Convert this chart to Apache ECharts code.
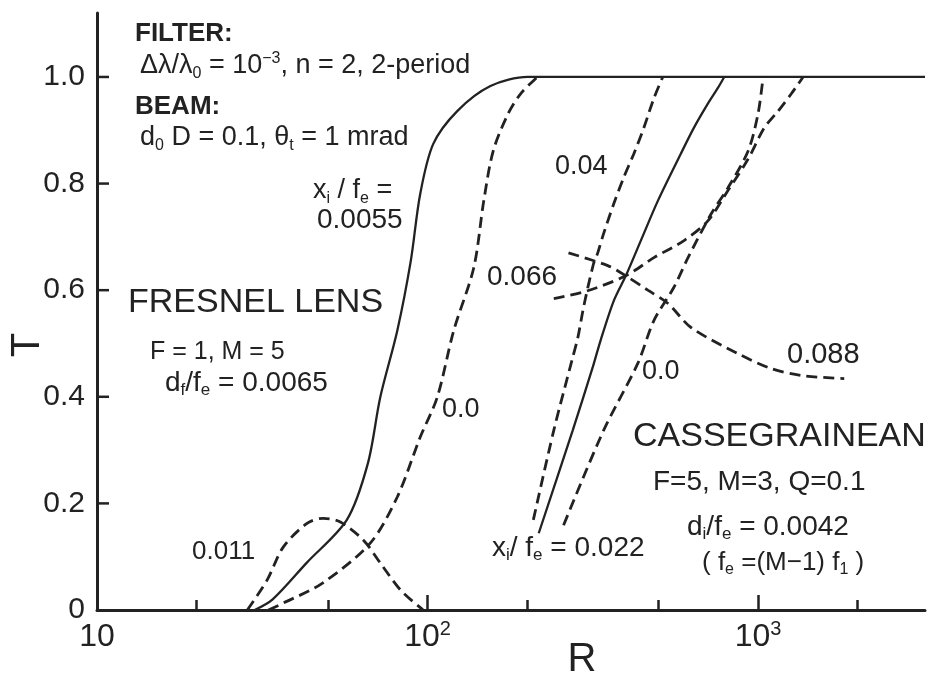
<!DOCTYPE html>
<html>
<head>
<meta charset="utf-8">
<title>T versus R</title>
<script src="https://cdn.jsdelivr.net/npm/echarts@6/dist/echarts.min.js"></script>
<style>
html, body { margin: 0; padding: 0; background: #fff; }
#chart { width: 939px; height: 677px; }
</style>
</head>
<body>
<div id="chart"></div>
<script>
'use strict';

// ticks and labels
var xLabelTicks = [10, 100, 1000];
var xMajorTicks = [100, 1000];
var xMinorTicks = [20, 50, 200, 500, 2000];
var yTicks = [0.2, 0.4, 0.6, 0.8, 1.0];
var yLabelTicks = [0, 0.2, 0.4, 0.6, 0.8, 1.0];

// Fresnel lens  xi/fe = 0.0055 (solid)
var fresnel0055R = [30, 34, 43, 57, 66, 72, 81, 89, 95, 104, 123, 155, 201, 3200];
var fresnel0055T = [0, 0.02, 0.088, 0.169, 0.275, 0.40, 0.524, 0.655, 0.78, 0.874, 0.936, 0.983, 1.0, 1.0];
// Fresnel lens  xi/fe = 0.0
var fresnel0R = [33, 36.6, 48, 67, 81, 95, 107, 120, 138, 148, 158, 175, 191, 215];
var fresnel0T = [0, 0.013, 0.05, 0.125, 0.212, 0.324, 0.399, 0.524, 0.642, 0.768, 0.861, 0.93, 0.968, 1.0];
// Fresnel lens  xi/fe = 0.011
var fresnel011R = [28.5, 32.7, 36.6, 43.3, 48.4, 54.5, 64, 72, 83, 97];
var fresnel011T = [0, 0.056, 0.118, 0.163, 0.172, 0.165, 0.131, 0.088, 0.037, 0];

// Cassegrainean  xi/fe = 0.022 (solid)
var cass022R = [217, 275, 316, 334, 366, 398, 442, 498, 584, 640, 705, 757, 790];
var cass022T = [0.144, 0.337, 0.455, 0.506, 0.58, 0.627, 0.693, 0.768, 0.856, 0.905, 0.95, 0.98, 1.0];
// Cassegrainean  0.04
var cass04R = [209, 241, 275, 285, 297, 318, 327, 341, 366, 392, 421, 451, 484, 515];
var cass04T = [0.169, 0.337, 0.474, 0.511, 0.57, 0.65, 0.669, 0.706, 0.762, 0.811, 0.856, 0.904, 0.96, 1.0];
// Cassegrainean  0.0
var cass0R = [258, 341, 433, 484, 556, 614, 721, 811, 933, 1000, 1036];
var cass0T = [0.159, 0.337, 0.463, 0.543, 0.605, 0.661, 0.743, 0.792, 0.861, 0.931, 1.0];
// Cassegrainean  0.066
var cass066R = [241, 305, 398, 484, 597, 705, 811, 933, 1043, 1150, 1259, 1369];
var cass066T = [0.584, 0.599, 0.627, 0.661, 0.693, 0.73, 0.787, 0.846, 0.904, 0.936, 0.968, 1.0];
// Cassegrainean  0.088
var cass088R = [267, 351, 398, 464, 534, 627, 869, 1095, 1350, 1823];
var cass088T = [0.67, 0.646, 0.627, 0.6, 0.575, 0.53, 0.481, 0.453, 0.44, 0.434];

var ink = '#222';
var font = '"Liberation Sans", Arial, sans-serif';

function zip(r, t) {
	return r.map(function(v, i) { return [v, t[i]]; });
}

function curve(name, r, t, dashed) {
	return {
		name: name,
		type: 'line',
		data: zip(r, t),
		showSymbol: false,
		silent: true,
		smooth: 0.3,
		lineStyle: {
			color: ink,
			width: dashed ? 2.8 : 2.3,
			type: dashed ? [11, 6] : 'solid'
		}
	};
}

function scriptStyles(size) {
	var s = Math.round(size * 0.6);
	return {
		sub: { fontSize: s, lineHeight: s, verticalAlign: 'bottom', fill: ink, fontFamily: font },
		sup: { fontSize: s, lineHeight: s, verticalAlign: 'top', fill: ink, fontFamily: font }
	};
}

// free text on the plot
function note(x, y, text, size, weight) {
	return {
		type: 'text',
		x: x,
		y: y,
		silent: true,
		style: {
			text: text,
			fill: ink,
			fontFamily: font,
			fontSize: size,
			fontWeight: weight || 'normal',
			lineHeight: Math.round(size * 1.15),
			align: 'left',
			verticalAlign: 'middle',
			rich: scriptStyles(size)
		}
	};
}

// an extra x axis that only draws inside ticks
function tickAxisX(values, len) {
	return {
		type: 'log',
		logBase: 10,
		min: 10,
		max: 3200,
		position: 'bottom',
		axisLine: { show: false, onZero: false },
		axisTick: { show: true, inside: true, length: len, customValues: values, lineStyle: { color: ink, width: 2.5 } },
		axisLabel: { show: false },
		splitLine: { show: false }
	};
}

var chart = echarts.init(document.getElementById('chart'));

var option = {
	animation: false,
	backgroundColor: '#fff',
	grid: { left: 97, right: 14, top: 13, bottom: 67, outerBoundsMode: 'none' },
	xAxis: [{
		type: 'log',
		logBase: 10,
		min: 10,
		max: 3200,
		axisLine: { onZero: false, lineStyle: { color: ink, width: 3 } },
		axisTick: { show: false },
		axisLabel: {
			customValues: xLabelTicks,
			margin: 9,
			color: ink,
			fontFamily: font,
			fontSize: 32,
			lineHeight: 36,
			formatter: function(v) {
				var e = Math.round(Math.log(v) / Math.LN10);
				return e === 1 ? '10' : '10{sup|' + e + '}';
			},
			rich: {
				sup: { fontSize: 20, lineHeight: 20, verticalAlign: 'top', color: ink, fontFamily: font }
			}
		},
		splitLine: { show: false },
		minorTick: { show: false }
	},
		tickAxisX(xMajorTicks, 15),
		tickAxisX(xMinorTicks, 10)
	],
	yAxis: {
		type: 'value',
		min: 0,
		max: 1.12,
		axisLine: { show: true, lineStyle: { color: ink, width: 3 } },
		axisTick: { show: false },
		axisLabel: {
			customValues: yLabelTicks,
			margin: 12,
			color: ink,
			fontFamily: font,
			fontSize: 30,
			formatter: function(v) { return v === 0 ? '0' : v.toFixed(1); }
		},
		splitLine: { show: false }
	},
	series: [
		curve('fresnel 0.0055', fresnel0055R, fresnel0055T, false),
		curve('fresnel 0.0', fresnel0R, fresnel0T, true),
		curve('fresnel 0.011', fresnel011R, fresnel011T, true),
		curve('cass 0.022', cass022R, cass022T, false),
		curve('cass 0.04', cass04R, cass04T, true),
		curve('cass 0.0', cass0R, cass0T, true),
		curve('cass 0.066', cass066R, cass066T, true),
		curve('cass 0.088', cass088R, cass088T, true),
		{
			// short inside ticks on the T axis, placed through the axes at R = 10
			name: 'y ticks',
			type: 'custom',
			data: yTicks.map(function(v) { return [10, v]; }),
			encode: { x: 0, y: 1 },
			clip: false,
			silent: true,
			z: 10,
			renderItem: function(params, api) {
				var p = api.coord([api.value(0), api.value(1)]);
				return {
					type: 'line',
					shape: { x1: p[0], y1: p[1], x2: p[0] + 12, y2: p[1] },
					style: { stroke: ink, lineWidth: 2.5 }
				};
			}
		}
	],
	graphic: [
		note(135, 34, 'FILTER:', 26, 'bold'),
		note(140, 66, 'Δλ/λ{sub|0} = 10{sup|−3}, n = 2, 2-period', 27),
		note(135, 107, 'BEAM:', 26, 'bold'),
		note(140, 138, 'd{sub|0} D = 0.1, θ{sub|t} = 1 mrad', 27),
		note(313, 191, 'x{sub|i} / f{sub|e} =', 27),
		note(317, 220, '0.0055', 28),
		note(128, 303, 'FRESNEL LENS', 34),
		note(150, 352, 'F = 1, M = 5', 25),
		note(165, 383, 'd{sub|f}/f{sub|e} = 0.0065', 28),
		note(192, 552, '0.011', 26),
		note(442, 410, '0.0', 27),
		note(555, 167, '0.04', 27),
		note(487, 277, '0.066', 28),
		note(642, 372, '0.0', 27),
		note(787, 355, '0.088', 29),
		note(633, 437, 'CASSEGRAINEAN', 34),
		note(653, 482, 'F=5, M=3, Q=0.1', 28),
		note(687, 527, 'd{sub|i}/f{sub|e} = 0.0042', 28),
		note(702, 563, '( f{sub|e} =(M−1) f{sub|1} )', 26),
		note(492, 548, 'x{sub|i}/ f{sub|e} = 0.022', 28),
		{
			type: 'text', x: 582, y: 660, silent: true,
			style: { text: 'R', fill: ink, fontFamily: font, fontSize: 40, align: 'center', verticalAlign: 'middle' }
		},
		{
			type: 'text', x: 28, y: 345, rotation: Math.PI / 2, silent: true,
			style: { text: 'T', fill: ink, fontFamily: font, fontSize: 40, align: 'center', verticalAlign: 'middle' }
		}
	]
};

chart.setOption(option);
</script>
</body>
</html>
